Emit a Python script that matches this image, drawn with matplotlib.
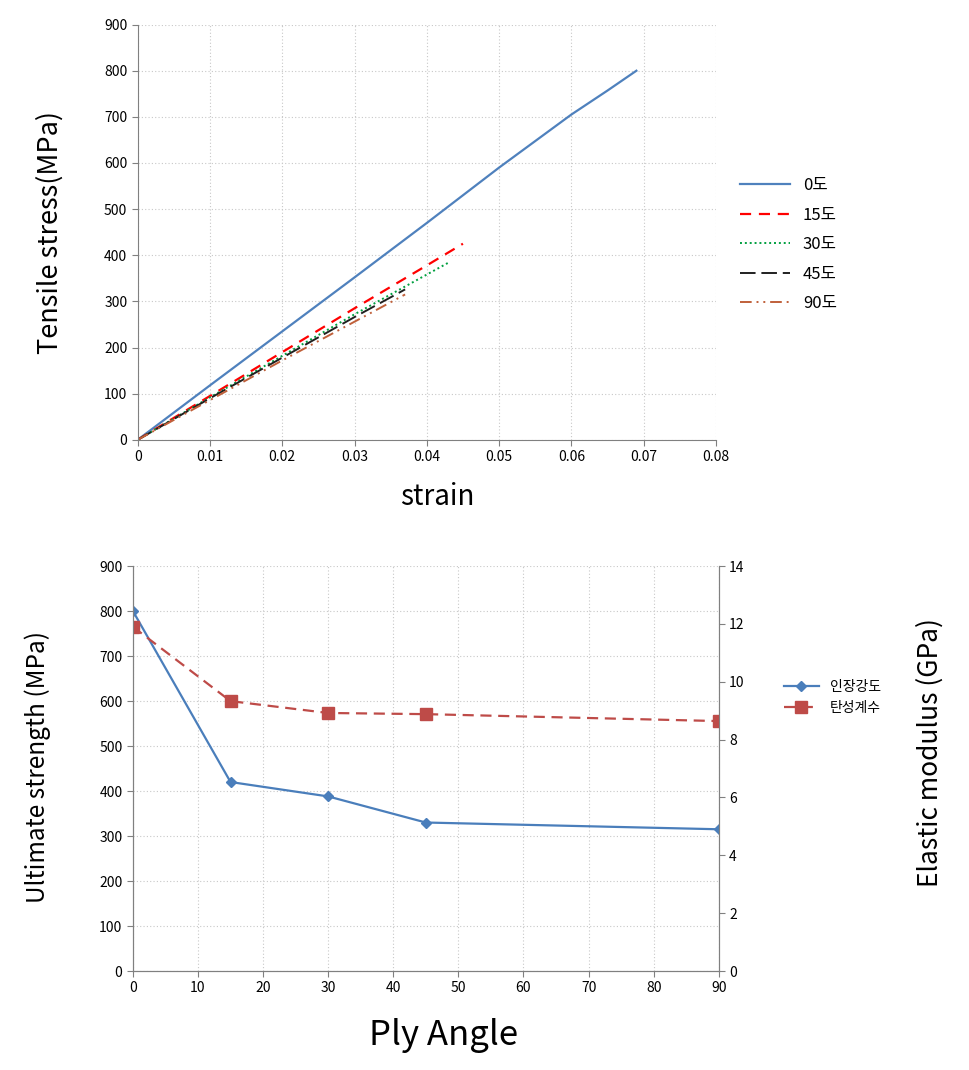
import numpy as np
import matplotlib
matplotlib.use('Agg')
import matplotlib.pyplot as plt

plt.rcParams['font.family'] = ['Noto Sans CJK KR', 'DejaVu Sans']

# stress-strain curves (strain, MPa)
strain_0   = [0, 0.01, 0.02, 0.03, 0.04, 0.05, 0.06, 0.065, 0.069]
stress_0   = [0, 118, 235, 352, 470, 590, 705, 757, 800]
strain_15  = [0, 0.01, 0.02, 0.03, 0.04, 0.045]
stress_15  = [0, 95, 190, 285, 378, 425]
strain_30  = [0, 0.01, 0.02, 0.03, 0.043]
stress_30  = [0, 92, 182, 272, 384]
strain_45  = [0, 0.01, 0.02, 0.03, 0.037]
stress_45  = [0, 90, 178, 266, 326]
strain_90  = [0, 0.01, 0.02, 0.03, 0.037]
stress_90  = [0, 86, 172, 256, 315]

# summary by ply angle
ply_angle  = [0, 15, 30, 45, 90]
ult_str    = [800, 420, 388, 330, 315]
elas_mod   = [11.9, 9.33, 8.92, 8.88, 8.64]

grid_kw = dict(color='#c8c8c8', linestyle=(0, (1, 2)), linewidth=0.8)

fig = plt.figure(figsize=(9.7, 10.7), dpi=100)

# ---- top chart ----
ax1 = fig.add_axes([0.142, 0.589, 0.596, 0.388])
ax1.plot(strain_0, stress_0, color='#4F81BD', lw=1.6, label='0도')
ax1.plot(strain_15, stress_15, color='#FF0000', lw=1.6, ls=(0, (5, 3.5)), label='15도')
ax1.plot(strain_30, stress_30, color='#00A040', lw=1.4, ls=(0, (1, 1.5)), label='30도')
ax1.plot(strain_45, stress_45, color='#202020', lw=1.4, ls=(0, (8, 3)), label='45도')
ax1.plot(strain_90, stress_90, color='#C0603A', lw=1.4, ls=(0, (6, 2.5, 1, 2.5, 1, 2.5)), label='90도')
ax1.set_xlim(0, 0.08)
ax1.set_ylim(0, 900)
ax1.set_xticks(np.arange(0, 0.081, 0.01))
ax1.set_xticklabels(['0', '0.01', '0.02', '0.03', '0.04', '0.05', '0.06', '0.07', '0.08'])
ax1.set_yticks(range(0, 901, 100))
ax1.grid(True, **grid_kw)
ax1.set_xlabel('strain', fontsize=20)
ax1.set_ylabel('Tensile stress(MPa)', fontsize=19.5)
ax1.xaxis.label.set_va('center')
ax1.yaxis.label.set_va('center')
ax1.xaxis.set_label_coords(0.518, -0.137)
ax1.yaxis.set_label_coords(-0.152, 0.50)
for s in ['top', 'right']:
    ax1.spines[s].set_visible(False)
for s in ['left', 'bottom']:
    ax1.spines[s].set_color('#808080')
ax1.tick_params(labelsize=10, length=4, color='#808080')
ax1.legend(loc='center left', bbox_to_anchor=(1.015, 0.47), frameon=False,
           fontsize=12, handlelength=3, labelspacing=0.75)

# ---- bottom chart ----
ax2 = fig.add_axes([0.137, 0.0925, 0.604, 0.3785])
l1, = ax2.plot(ply_angle, ult_str, color='#4A7EBB', lw=1.6, marker='D', ms=5, label='인장강도')
ax2.set_xlim(0, 90)
ax2.set_ylim(0, 900)
ax2.set_xticks(range(0, 91, 10))
ax2.set_yticks(range(0, 901, 100))
ax2.grid(True, **grid_kw)
ax2.set_xlabel('Ply Angle', fontsize=25)
ax2.set_ylabel('Ultimate strength (MPa)', fontsize=17.5)
ax2.xaxis.label.set_va('center')
ax2.yaxis.label.set_va('center')
ax2.xaxis.set_label_coords(0.53, -0.158)
ax2.yaxis.set_label_coords(-0.162, 0.505)
ax2.spines['top'].set_visible(False)
for s in ['left', 'bottom', 'right']:
    ax2.spines[s].set_color('#808080')
ax2.tick_params(labelsize=10, length=4, color='#808080')

ax3 = ax2.twinx()
l2, = ax3.plot(ply_angle, elas_mod, color='#BE4B48', lw=1.6, ls=(0, (5, 3)), marker='s', ms=8,
               label='탄성계수')
ax3.set_ylim(0, 14)
ax3.set_yticks(range(0, 15, 2))
ax3.set_ylabel('Elastic modulus (GPa)', fontsize=19)
ax3.yaxis.label.set_va('center')
ax3.yaxis.set_label_coords(1.36, 0.54)
ax3.spines['top'].set_visible(False)
for s in ['left', 'bottom', 'right']:
    ax3.spines[s].set_color('#808080')
ax3.tick_params(labelsize=10, length=4, color='#808080')
ax3.legend([l1, l2], ['인장강도', '탄성계수'], loc='center left', bbox_to_anchor=(1.09, 0.676),
           frameon=False, fontsize=10, handlelength=2.5)

fig.savefig('out.png', dpi=100)
